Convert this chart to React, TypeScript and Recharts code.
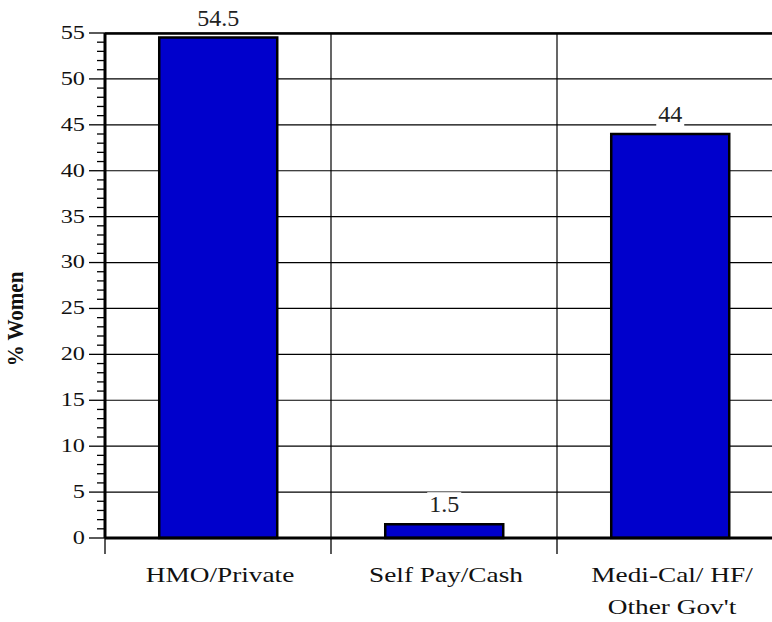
import { BarChart, Bar, XAxis, YAxis, CartesianGrid, LabelList } from 'recharts';

// coverage categories and share of women (%)
const CATEGORIES = ['HMO/Private', 'Self Pay/Cash', "Medi-Cal/ HF/\nOther Gov't"];
const VALUES = [54.5, 1.5, 44];
const Y_MAJOR_TICKS = [0, 5, 10, 15, 20, 25, 30, 35, 40, 45, 50, 55];
const Y_MAX = 55;
const Y_LABEL = '% Women';

const data = CATEGORIES.map((name, i) => ({ name, value: VALUES[i] }));
const minorTicks = Array.from({ length: Y_MAX + 1 }, (_, i) => i);

const CHART_W = 790;
const CHART_H = 622;
const X_AXIS_H = 84;
const M = { top: 33, right: 7, left: 0, bottom: 0 };
const Y_AXIS_W = 105;
const PLOT_W = CHART_W - M.left - M.right - Y_AXIS_W;
const BAND = PLOT_W / CATEGORIES.length;
const FONT = 'Liberation Serif, DejaVu Serif, serif';

function YTick(props: any) {
  const { x, y, payload } = props;
  const v = payload.value;
  const major = v % 5 === 0;
  return (
    <g>
      <line x1={x - (major ? 16 : 8)} x2={x} y1={y} y2={y} stroke="#000" strokeWidth={1.3} />
      {major && (
        <text
          transform={`translate(${x - 20},${y}) scale(1.35,1)`}
          textAnchor="end"
          dominantBaseline="central"
          style={{ fontFamily: FONT }}
          fontSize={18}
          fill="#111"
        >
          {v}
        </text>
      )}
    </g>
  );
}

function XTick(props: any) {
  const { x, y, payload } = props;
  const lines = String(payload.value).split('\n');
  return (
    <g>
      <line x1={x - BAND / 2} x2={x - BAND / 2} y1={y} y2={y + 16} stroke="#000" strokeWidth={1.3} />
      {lines.map((t, i) => (
        <text
          key={i}
          transform={`translate(${x + 2},${y + 44 + i * 32}) scale(1.3,1)`}
          textAnchor="middle"
          style={{ fontFamily: FONT }}
          fontSize={21}
          fill="#111"
        >
          {t}
        </text>
      ))}
    </g>
  );
}

function ValueLabel(props: any) {
  const { x, y, width, value } = props;
  const s = String(value);
  const fs = 24;
  const tw = [...s].reduce((a, c) => a + (c === '.' ? 0.25 : 0.5), 0) * fs;
  const cx = x + width / 2;
  return (
    <g>
      <rect x={cx - tw / 2 - 2} y={y - 32} width={tw + 4} height={26} fill="#fff" />
      <text x={cx} y={y - 12} textAnchor="middle" style={{ fontFamily: FONT }} fontSize={fs} fill="#222">
        {s}
      </text>
    </g>
  );
}

export default function App() {
  return (
    <div style={{ position: 'fixed', left: 0, top: 0, width: 772, height: 622, overflow: 'hidden', background: '#fff', fontFamily: FONT }}>
      <BarChart width={CHART_W} height={CHART_H} data={data} margin={M} barCategoryGap="24%">
        <CartesianGrid
          stroke="#000"
          strokeWidth={1.2}
          horizontalValues={Y_MAJOR_TICKS}
          verticalCoordinatesGenerator={({ offset }: any) =>
            CATEGORIES.map((_, i) => offset.left + BAND * (i + 1))
          }
        />
        <XAxis
          dataKey="name"
          interval={0}
          height={X_AXIS_H}
          axisLine={{ stroke: '#000', strokeWidth: 3 }}
          tickLine={false}
          tickSize={0}
          tickMargin={0}
          tick={<XTick />}
        />
        <YAxis
          type="number"
          domain={[0, Y_MAX]}
          ticks={minorTicks}
          interval={0}
          width={Y_AXIS_W}
          axisLine={{ stroke: '#000', strokeWidth: 3 }}
          tickLine={false}
          tickSize={0}
          tickMargin={0}
          tick={<YTick />}
        />
        <Bar dataKey="value" fill="#0000CC" stroke="#000" strokeWidth={2.5} isAnimationActive={false}>
          <LabelList dataKey="value" content={<ValueLabel />} />
        </Bar>
      </BarChart>
      <svg style={{ position: 'absolute', left: 0, top: 0, pointerEvents: 'none' }} width={772} height={622}>
        <line x1={105} x2={772} y1={33.5} y2={33.5} stroke="#000" strokeWidth={2.5} />
      </svg>
      <div
        style={{
          position: 'absolute',
          left: 16,
          top: 319,
          transform: 'translate(-50%,-50%) rotate(-90deg) scale(1,1.12)',
          fontFamily: FONT,
          fontWeight: 'bold',
          fontSize: 21,
          color: '#111',
          whiteSpace: 'nowrap',
          lineHeight: 1,
        }}
      >
        {Y_LABEL}
      </div>
    </div>
  );
}
